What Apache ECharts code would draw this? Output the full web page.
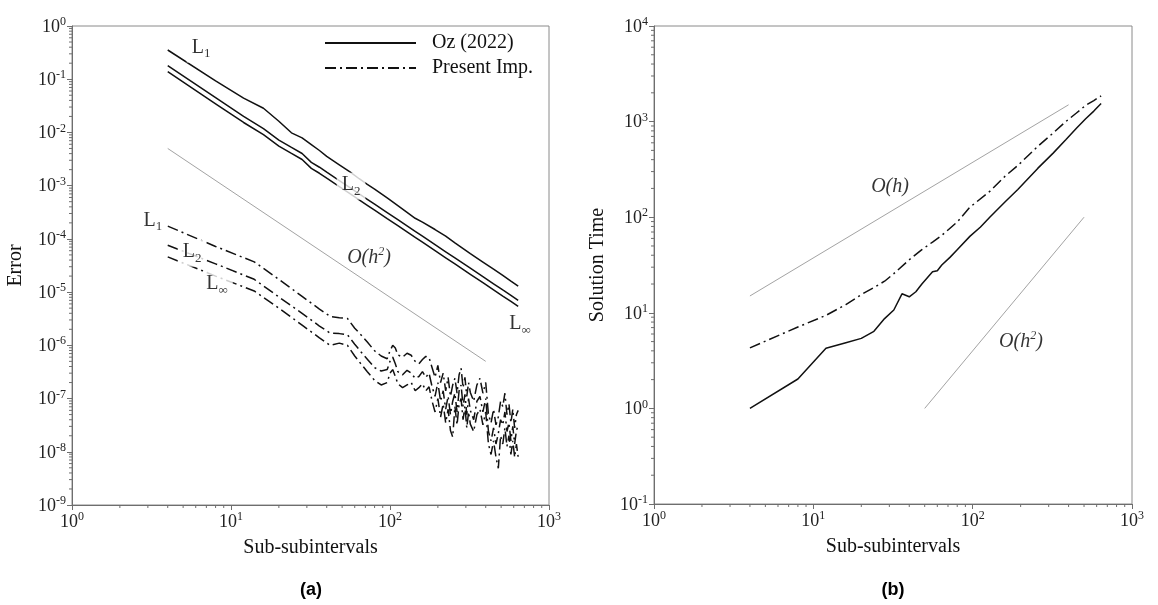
<!DOCTYPE html>
<html><head><meta charset="utf-8">
<script src="https://cdn.jsdelivr.net/npm/echarts@6/dist/echarts.min.js"></script>
<style>html,body{margin:0;padding:0;background:#fff}#c{width:1158px;height:605px}</style>
</head><body><div id="c"></div>
<script>
// ---------- Panel (a): Error ----------
const xOzA = [4,8,12,16,20,24,28,32,36,40,48,56,64,72,80,96,112,128,144,160,192,224,256,320,384,448,512,576,640];
const ozL1 = [0.354,0.0927,0.0442,0.0285,0.01626,0.00984,0.00793,0.00593,0.00458,0.00354,0.00246,0.00181,0.00135,0.001057,8.65e-4,5.87e-4,4.22e-4,3.16e-4,2.44e-4,2.07e-4,1.50e-4,1.13e-4,8.45e-5,5.28e-5,3.67e-5,2.70e-5,2.07e-5,1.61e-5,1.29e-5];
const ozL2 = [0.1795,0.0449,0.01995,0.01175,0.00718,0.00522,0.00402,0.00274,0.00222,0.001795,0.001247,9.16e-4,7.01e-4,5.55e-4,4.49e-4,3.12e-4,2.29e-4,1.754e-4,1.387e-4,1.122e-4,7.8e-5,5.73e-5,4.39e-5,2.81e-5,1.95e-5,1.432e-5,1.096e-5,8.67e-6,7.01e-6];
const ozLinf = [0.1384,0.0346,0.01538,0.00906,0.00553,0.00403,0.0031,0.00211,0.00171,0.001384,9.62e-4,7.06e-4,5.41e-4,4.28e-4,3.46e-4,2.40e-4,1.766e-4,1.352e-4,1.069e-4,8.65e-5,6.01e-5,4.42e-5,3.38e-5,2.16e-5,1.503e-5,1.104e-5,8.45e-6,6.68e-6,5.41e-6];

const xPreA = [4,8,14,20,28,36,42,48,54,60,66,72,80,88,96,100,104,108,112,120,128,136,144,152,160,168,176,184,192,200,208,216,224,232,240,248,256,264,272,280,288,296,304,312,320,336,352,368,384,400,416,432,448,464,480,496,512,528,544,560,576,592,608,624,640];
const preL1 = [1.74e-4,7.2e-5,3.7e-5,1.74e-5,8.3e-6,4.8e-6,3.5e-6,3.3e-6,3.2e-6,2.1e-6,
  1.55e-6,1.15e-6,7.9e-7,6.3e-7,5.6e-7,7.9e-7,1.0e-6,8.9e-7,6.6e-7,6.0e-7,
  7.1e-7,6.5e-7,5.0e-7,4.5e-7,5.4e-7,6.2e-7,5.9e-7,3.8e-7,2.5e-7,4.2e-7,
  2.0e-7,3.0e-7,1.4e-7,2.5e-7,1.1e-7,1.8e-7,2.4e-7,1.26e-7,2.8e-7,3.7e-7,
  1.6e-7,2.5e-7,1.1e-7,2.0e-7,1.3e-7,8.9e-8,1.8e-7,2.4e-7,1.26e-7,2.0e-7,
  5.0e-8,3.5e-8,6.3e-8,3.2e-8,4.5e-8,8.9e-8,7.1e-8,1.26e-7,5.0e-8,7.9e-8,
  3.5e-8,6.3e-8,2.8e-8,5.0e-8,6.0e-8];
const preL2 = [7.6e-5,3.4e-5,1.74e-5,8.1e-6,4.0e-6,2.3e-6,1.7e-6,1.66e-6,1.58e-6,1.05e-6,
  7.4e-7,5.5e-7,3.8e-7,3.3e-7,3.5e-7,5.0e-7,6.0e-7,4.5e-7,3.2e-7,2.8e-7,
  3.4e-7,3.0e-7,2.4e-7,2.6e-7,3.2e-7,2.5e-7,3.0e-7,1.66e-7,1.1e-7,2.0e-7,
  8.9e-8,1.4e-7,6.3e-8,1.1e-7,5.0e-8,8.9e-8,1.26e-7,5.6e-8,1.4e-7,1.8e-7,
  7.1e-8,1.2e-7,5.0e-8,1.0e-7,6.0e-8,4.0e-8,8.9e-8,1.1e-7,5.6e-8,1.0e-7,
  2.4e-8,1.6e-8,2.8e-8,1.4e-8,2.2e-8,4.0e-8,3.2e-8,5.6e-8,2.4e-8,3.5e-8,
  1.6e-8,3.0e-8,1.4e-8,2.5e-8,3.2e-8];
const preLinf = [4.6e-5,2.0e-5,1.05e-5,5.0e-6,2.4e-6,1.38e-6,1.0e-6,1.1e-6,1.0e-6,6.3e-7,
  4.4e-7,3.2e-7,2.2e-7,1.8e-7,2.0e-7,3.0e-7,3.5e-7,2.6e-7,1.9e-7,1.6e-7,
  1.8e-7,2.0e-7,1.4e-7,1.6e-7,1.9e-7,1.4e-7,1.66e-7,8.9e-8,5.6e-8,1.0e-7,
  4.5e-8,7.9e-8,3.5e-8,6.3e-8,2.5e-8,1.9e-8,7.1e-8,3.2e-8,7.9e-8,1.0e-7,
  4.0e-8,7.1e-8,2.8e-8,5.6e-8,3.3e-8,2.4e-8,5.0e-8,6.3e-8,3.2e-8,5.6e-8,
  1.4e-8,8.9e-9,1.6e-8,7.9e-9,4.9e-9,2.0e-8,1.4e-8,2.8e-8,1.26e-8,2.0e-8,
  8.9e-9,1.6e-8,7.9e-9,1.4e-8,7.9e-9];

const refA_x = [4, 400];
const refA_y = [5e-3, 5e-7];

// curve labels (with white knock-out) and order labels (plain)
const annA_x = [6.48, 56.9, 657, 3.23, 5.69, 8.17];
const annA_y = [0.37, 9.8e-4, 2.4e-6, 2.07e-4, 5.4e-5, 1.35e-5];
const annA_t = ['{m|L}{sub|1}','{m|L}{sub|2}','{m|L}{sub|∞}','{m|L}{sub|1}','{m|L}{sub|2}','{m|L}{sub|∞}'];
const ordA_x = [73.8];
const ordA_y = [4.55e-5];
const ordA_t = ['{it|O(h}{itsup|2}{it|)}'];

// ---------- Panel (b): Solution time ----------
const xOzB = [4,8,12,16,20,24,28,32,36,40,44,48,56,60,64,72,80,96,112,128,160,192,256,320,384,448,512,576,640];
const ozTime = [1.0,2.03,4.26,4.87,5.4,6.4,8.7,10.7,15.8,14.7,16.6,20,26.9,27.5,31.6,38,45.7,63,79,100,145,195,324,468,646,851,1072,1288,1549];
const xPreB = [4,8,12,16,20,24,28,32,40,48,56,64,80,96,128,160,192,256,320,384,448,512,576,640];
const preTime = [4.3,7.1,9.4,12.2,15.5,18.4,21.4,25.7,35.9,45.7,55,64.6,89,127,186,269,347,550,759,1000,1230,1480,1660,1860];

const refB1_x = [4, 400];
const refB1_y = [15, 1500];
const refB2_x = [50, 500];
const refB2_y = [1, 100];

const ordB_x = [30.3, 201];
const ordB_y = [212, 5.07];
const ordB_t = ['{it|O(h)}', '{it|O(h}{itsup|2}{it|)}'];

// ---------- Axis ticks ----------
const xDecades = [0, 1, 2];
const yDecadesA = [-9,-8,-7,-6,-5,-4,-3,-2,-1];
const yDecadesB = [-1, 0, 1, 2, 3];
const minorMults = [2,3,4,5,6,7,8,9];

const SERIF = 'Liberation Serif';
const AX = '#6e6e6e';
const INK = '#000';

function zip(xs, ys){ return xs.map((x,i)=>[x, ys[i]]); }
function minorVals(decs){ const out=[]; decs.forEach(e=>minorMults.forEach(m=>out.push(m*Math.pow(10,e)))); return out; }

const DASH = [11,4,2,4];
function line(name, xs, ys, gi, dashed){
  return {type:'line', name, xAxisIndex:gi, yAxisIndex:gi, data: zip(xs, ys), symbol:'none', showSymbol:false,
    lineStyle:{color:'#111', width:1.5, type: dashed ? DASH : 'solid'}, itemStyle:{color:'#111'}, silent:true, z:3};
}
function ref(xs, ys, gi){
  return {type:'line', xAxisIndex:gi, yAxisIndex:gi, data: zip(xs, ys), symbol:'none',
    lineStyle:{color:'#a3a3a3', width:1}, silent:true, z:2};
}
const labRich = {
  m:{fontFamily:SERIF, fontSize:20, color:INK, verticalAlign:'top', lineHeight:20},
  sub:{fontFamily:SERIF, fontSize:13, color:INK, verticalAlign:'top', padding:[10,0,0,0]},
  it:{fontFamily:SERIF, fontStyle:'italic', fontSize:20, color:INK, verticalAlign:'bottom', lineHeight:22},
  itsup:{fontFamily:SERIF, fontStyle:'italic', fontSize:12, color:INK, verticalAlign:'top', lineHeight:12}
};
function ann(xs, ys, texts, gi, knock){
  return {type:'scatter', xAxisIndex:gi, yAxisIndex:gi, data: zip(xs, ys), symbolSize:0, silent:true, z:10,
    label:{show:true, position:'inside', color:INK, textBorderWidth:0, formatter:p=>texts[p.dataIndex], rich:labRich,
      backgroundColor: knock ? '#fff' : 'transparent', padding: knock ? [2,5] : 0}};
}
const yMin = [1e-9, 0.1], xMin = [1, 1];
function ticks(gi, vals, dir){
  return {type:'custom', xAxisIndex:gi, yAxisIndex:gi, silent:true, z:6, clip:false,
    data: vals.map(v => dir==='x' ? [v, yMin[gi]] : [xMin[gi], v]),
    renderItem:(params, api)=>{
      const p = api.coord([api.value(0), api.value(1)]);
      const sh = dir==='x' ? {x1:p[0], y1:p[1], x2:p[0], y2:p[1]+3} : {x1:p[0], y1:p[1], x2:p[0]-3, y2:p[1]};
      return {type:'line', shape:sh, style:{stroke:AX, lineWidth:1}};
    }};
}
function powLabel(v){ const e = Math.round(Math.log10(v)); return '{b|10}{s|' + e + '}'; }
const tickRich = {
  b:{fontFamily:SERIF, fontSize:18, color:'#222', verticalAlign:'bottom', lineHeight:20},
  s:{fontFamily:SERIF, fontSize:12, color:'#222', verticalAlign:'top', lineHeight:12}
};
function axis(gi, name, min, max, split, gap){
  return {type:'log', logBase:10, gridIndex:gi, min, max, splitNumber:split,
    name, nameLocation:'middle', nameGap:gap, nameTextStyle:{fontFamily:SERIF, fontSize:20, color:'#111'},
    axisLine:{show:true, lineStyle:{color:AX, width:1}},
    axisTick:{show:true, length:5, inside:false, lineStyle:{color:AX}},
    minorTick:{show:false}, splitLine:{show:false},
    axisLabel:{formatter:powLabel, rich:tickRich, margin:6, color:'#222'}};
}

const chart = echarts.init(document.getElementById('c'), null, {renderer:'canvas'});
chart.setOption({
  animation:false,
  backgroundColor:'#fff',
  grid:[
    {left:72, top:26, width:477, height:479, show:true, borderColor:'#8a8a8a', borderWidth:1, backgroundColor:'transparent'},
    {left:654, top:26, width:478, height:478, show:true, borderColor:'#8a8a8a', borderWidth:1, backgroundColor:'transparent'}
  ],
  xAxis:[ axis(0,'Sub-subintervals',1,1000,3,33), axis(1,'Sub-subintervals',1,1000,3,33) ],
  yAxis:[ axis(0,'Error',1e-9,1,9,46), axis(1,'Solution Time',0.1,1e4,5,46) ],
  legend:{data:['Oz (2022)','Present Imp.'], orient:'vertical', left:324, top:33, padding:0, itemWidth:91, itemHeight:14, itemGap:5,
    selectedMode:false,
    itemStyle:{color:'rgba(0,0,0,0)', borderWidth:0, borderColor:'rgba(0,0,0,0)', opacity:0},
    textStyle:{fontFamily:SERIF, fontSize:20, lineHeight:20, color:'#111', padding:[0,0,0,11]}},
  graphic:[
    {type:'text', style:{text:'(a)', x:311, y:590, align:'center', verticalAlign:'middle', font:'bold 18px "Liberation Sans"', fill:'#000'}},
    {type:'text', style:{text:'(b)', x:893, y:590, align:'center', verticalAlign:'middle', font:'bold 18px "Liberation Sans"', fill:'#000'}}
  ],
  series:[
    line('Oz (2022)', xOzA, ozL1, 0, false),
    line('Oz (2022)', xOzA, ozL2, 0, false),
    line('Oz (2022)', xOzA, ozLinf, 0, false),
    line('Present Imp.', xPreA, preL1, 0, true),
    line('Present Imp.', xPreA, preL2, 0, true),
    line('Present Imp.', xPreA, preLinf, 0, true),
    ref(refA_x, refA_y, 0),
    ann(annA_x, annA_y, annA_t, 0, true),
    ann(ordA_x, ordA_y, ordA_t, 0, false),
    line('b Oz', xOzB, ozTime, 1, false),
    line('b Present', xPreB, preTime, 1, true),
    ref(refB1_x, refB1_y, 1),
    ref(refB2_x, refB2_y, 1),
    ann(ordB_x, ordB_y, ordB_t, 1, false),
    ticks(0, minorVals(xDecades), 'x'),
    ticks(0, minorVals(yDecadesA), 'y'),
    ticks(1, minorVals(xDecades), 'x'),
    ticks(1, minorVals(yDecadesB), 'y')
  ]
});
</script>
</body></html>
